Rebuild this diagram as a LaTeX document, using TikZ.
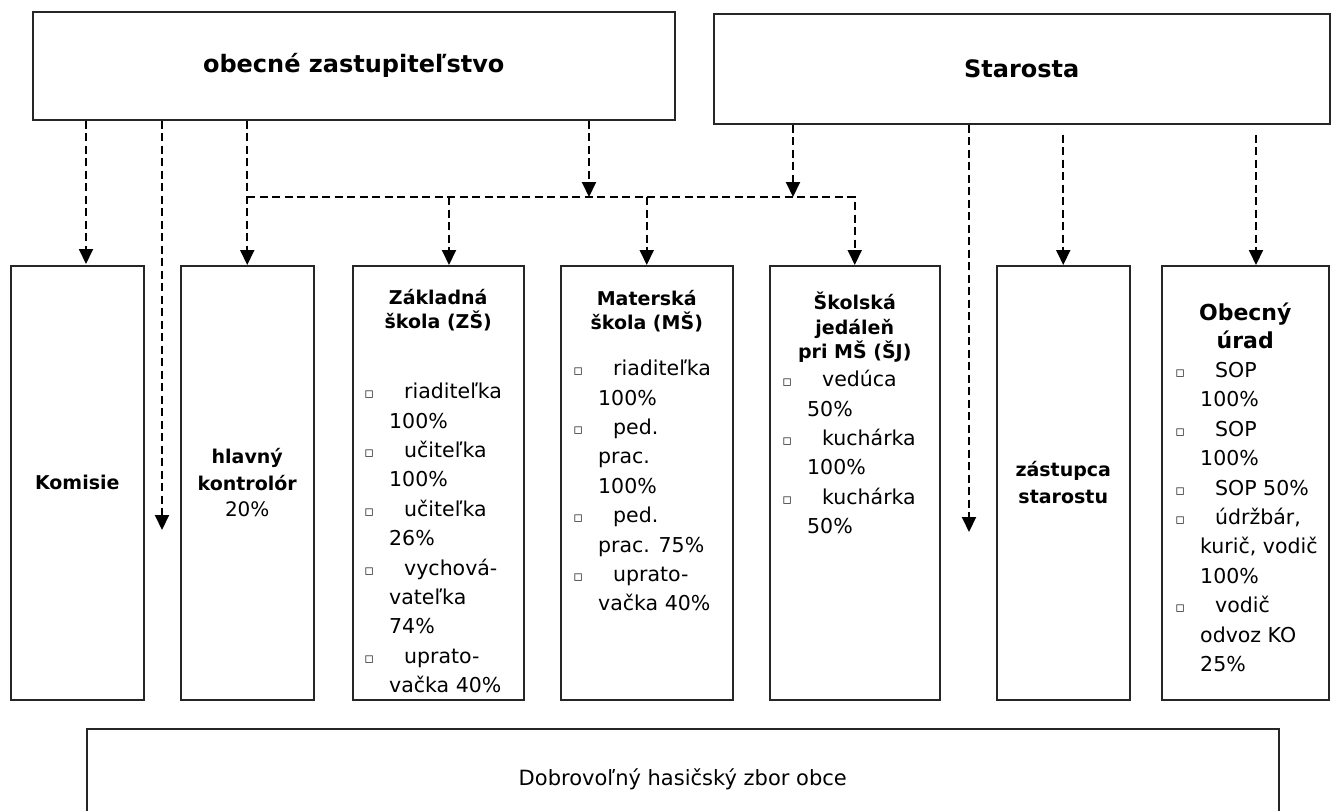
\documentclass[tikz,border=0pt]{standalone}
\usepackage{fontspec}
\setmainfont{DejaVu Sans}
\usetikzlibrary{positioning, arrows.meta}
\tikzstyle{orgbox}=[draw=black!85, line width=1.5pt, rectangle, inner sep=0pt, anchor=north west, align=center, font=\bfseries\fontsize{19}{26.5}\selectfont]
\tikzstyle{boxtitle}=[align=center, inner sep=0pt, anchor=north, font=\bfseries\fontsize{19}{24.5}\selectfont]
\tikzstyle{stafflist}=[align=left, inner sep=0pt, font=\fontsize{20.5}{29.4}\selectfont]
\tikzstyle{dlink}=[line width=2pt, dash pattern=on 8pt off 4.5pt, -{Triangle[length=15pt,width=14pt]}]
\tikzstyle{dbus}=[line width=2pt, dash pattern=on 8pt off 4.5pt]
\newcommand{\orgunit}{\node[orgbox]}
\newcommand{\itm}{\llap{\makebox[40pt]{\color{black!75}\fontsize{15}{15}\selectfont ▫}}\hspace{15pt}}

\begin{document}
\begin{tikzpicture}[x=1pt, y=-1pt]
\useasboundingbox (0,0) rectangle (1331,811);
\clip (0,0) rectangle (1331,811);
% top level
\orgunit[minimum width=642pt, minimum height=108pt, font=\bfseries\fontsize{24}{28}\selectfont] (oz) at (32,11) {obecné zastupiteľstvo};
\orgunit[minimum width=616pt, minimum height=110pt, font=\bfseries\fontsize{24}{28}\selectfont] (sta) at (713,13) {Starosta};
% columns
\orgunit[minimum width=133pt, minimum height=434pt] (kom) at (10,265) {Komisie};
\orgunit[minimum width=133pt, minimum height=434pt] (hk) at (180,265) {hlavný\\kontrolór\\{\mdseries\fontsize{20}{26.5}\selectfont 20\%}};
\orgunit[minimum width=171pt, minimum height=434pt] (zs) at (352,265) {};
\orgunit[minimum width=172pt, minimum height=434pt] (ms) at (560,265) {};
\orgunit[minimum width=170pt, minimum height=434pt] (sj) at (769,265) {};
\orgunit[minimum width=133pt, minimum height=434pt] (zst) at (996,265) {zástupca\\starostu};
\orgunit[minimum width=167pt, minimum height=434pt] (ou) at (1161,265) {};
\orgunit[minimum width=1192pt, minimum height=102pt, font=\fontsize{21}{25}\selectfont] (dhz) at (86,728) {Dobrovoľný hasičský zbor obce};

\node[boxtitle, below=24pt of zs.north] (zsT) {Základná\\škola (ZŠ)};
\node[stafflist, below right=118pt and 37pt of zs.north west] (zsL) {\itm riaditeľka\\100\%\\\itm učiteľka\\100\%\\\itm učiteľka\\26\%\\\itm vychová-\\vateľka\\74\%\\\itm uprato-\\vačka 40\%};
\node[boxtitle, below=25pt of ms.north] (msT) {Materská\\škola (MŠ)};
\node[stafflist, below right=95pt and 38pt of ms.north west] (msL) {\itm riaditeľka\\100\%\\\itm ped.\\prac.\\100\%\\\itm ped.\\prac. 75\%\\\itm uprato-\\vačka 40\%};
\node[boxtitle, below=27pt of sj.north] (sjT) {Školská\\jedáleň\\pri MŠ (ŠJ)};
\node[stafflist, below right=105pt and 38pt of sj.north west] (sjL) {\itm vedúca\\50\%\\\itm kuchárka\\100\%\\\itm kuchárka\\50\%};
\node[boxtitle, font=\bfseries\fontsize{22}{28}\selectfont, below=38pt of ou.north] (ouT) {Obecný\\úrad};
\node[stafflist, below right=97pt and 39pt of ou.north west] (ouL) {\itm SOP\\100\%\\\itm SOP\\100\%\\\itm SOP 50\%\\\itm údržbár,\\kurič, vodič\\100\%\\\itm vodič\\odvoz KO\\25\%};

% connectors
\coordinate (bus) at (0,197);
\coordinate (kx) at (86,264);
\coordinate (zsx) at (449,265);
\coordinate (oux) at (1256,265);
\coordinate (z1) at (589,197);
\coordinate (z2) at (162,530);
\coordinate (s1) at (793,197);
\coordinate (s2) at (969,532);
\draw[dlink] (kx |- oz.south) -- (kx);
\draw[dlink] (z2 |- oz.south) -- (z2);
\draw[dlink] (hk.north |- oz.south) -- (hk.north);
\draw[dlink] (z1 |- oz.south) -- (z1);
\draw[dlink] (s1 |- sta.south) -- (s1);
\draw[dlink] (s2 |- sta.south) -- (s2);
\draw[dlink, shorten <=10pt] (zst.north |- sta.south) -- (zst.north);
\draw[dlink, shorten <=10pt] (oux |- sta.south) -- (oux);
\draw[dlink] (hk.north |- bus) -- (sj.north |- bus) -- (sj.north);
\foreach \b in {zsx, ms.north}
  \draw[dlink] (\b |- bus) -- (\b);
\end{tikzpicture}
\end{document}
